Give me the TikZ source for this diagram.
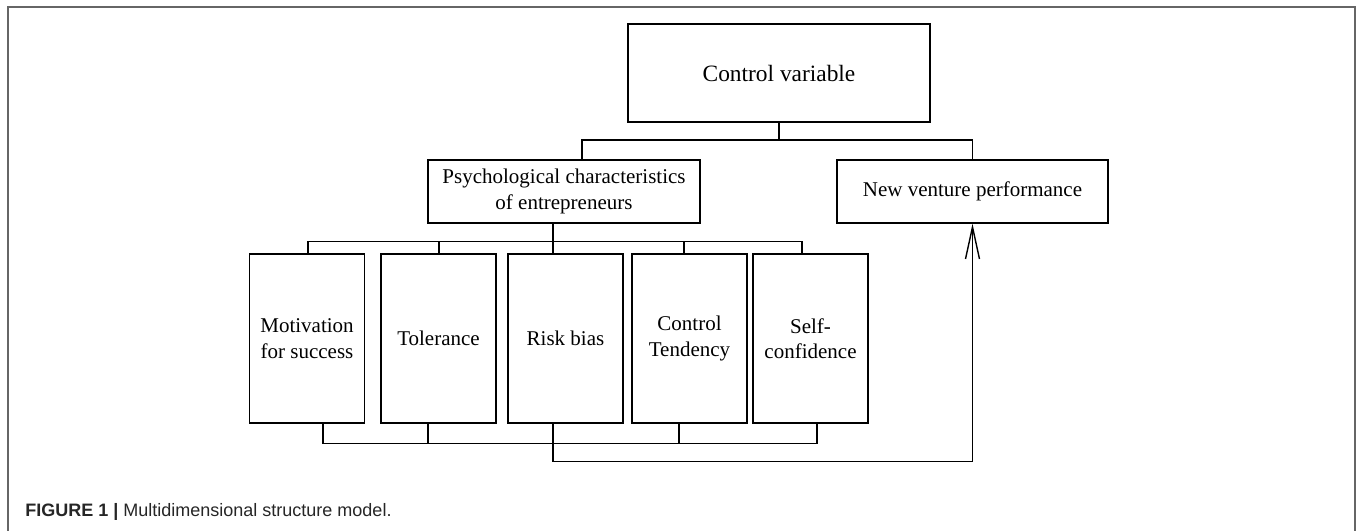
\documentclass[tikz,border=0pt]{standalone}
\usepackage{fontspec}
\setmainfont{Liberation Serif}
\newfontfamily\capfont{Liberation Sans}
\usepackage{tikz}
\usetikzlibrary{positioning}
\usetikzlibrary{arrows.meta}
\tikzset{box/.style={draw, line width=0.7pt, align=center, inner sep=0pt,
font=\fontsize{10.5}{12.75}\selectfont},
leafbox/.style={box, minimum width=57.5pt, minimum height=84.5pt},
link/.style={line width=0.7pt}}

\begin{document}
\begin{tikzpicture}[x=0.5pt, y=-0.5pt]
	\useasboundingbox (0,0) rectangle (1357,531);
	\draw[line width=0.6pt, black!60] (8,531) -- (8,7) -- (1355,7) -- (1355,531);
	% top level
	\node[box, minimum width=151pt, minimum height=49pt, font=\fontsize{11.7}{14}\selectfont] (cv) at (779,73) {Control variable};
	\node[box, minimum width=136pt, minimum height=31.5pt] (psych) at (564,191.5) {Psychological characteristics\\of entrepreneurs};
	\node[box, minimum width=135.5pt, minimum height=31.5pt] (nvp) at (972.5,191.5) {New venture performance};
	% leaves
	\node[leafbox] (mot) at (307,338.5) {Motivation\\for success};
	\node[leafbox] (tol) at (438.5,338.5) {Tolerance};
	\node[leafbox] (risk) at (565.5,338.5) {Risk bias};
	\node[leafbox] (ctrl) at (689.5,338.5) {Control\\Tendency};
	\node[leafbox] (self) at (810.5,338.5) {Self-\\confidence};
	% caption
	\node[anchor=base west, inner sep=0pt, text=black!85, font=\capfont\fontsize{9}{11}\selectfont] (cap) at (25,516)
		{\textbf{FIGURE 1 |} Multidimensional structure model.};
	% links
	\coordinate (hub) at (cv.south |- 0,140);
	\draw[link] (cv.south) -- (hub);
	\draw[link] ([xshift=9pt]psych.north) |- (hub) -| (nvp.north);
	\draw[link] ([xshift=-5.5pt]psych.south) -- ([xshift=-6.25pt]risk.north);
	\draw[link] ([xshift=0.5pt]mot.north) -- ++(0,-12) -| ([xshift=-4.25pt]self.north);
	\foreach \n/\dx in {tol/0.25pt, ctrl/-2.75pt}
		\draw[link] ([xshift=\dx]\n.north) -- ++(0,-12);
	\draw[link] ([xshift=8pt]mot.south) -- ++(0,20) -| ([xshift=3.25pt]self.south);
	\foreach \n/\dx in {tol/-5.25pt, ctrl/-5.25pt}
		\draw[link] ([xshift=\dx]\n.south) -- ++(0,20);
	\draw[link, -{Straight Barb[length=16pt, width=7pt]}] ([xshift=-6.25pt]risk.south) -- ++(0,38) -| (nvp.south);
\end{tikzpicture}
\end{document}
